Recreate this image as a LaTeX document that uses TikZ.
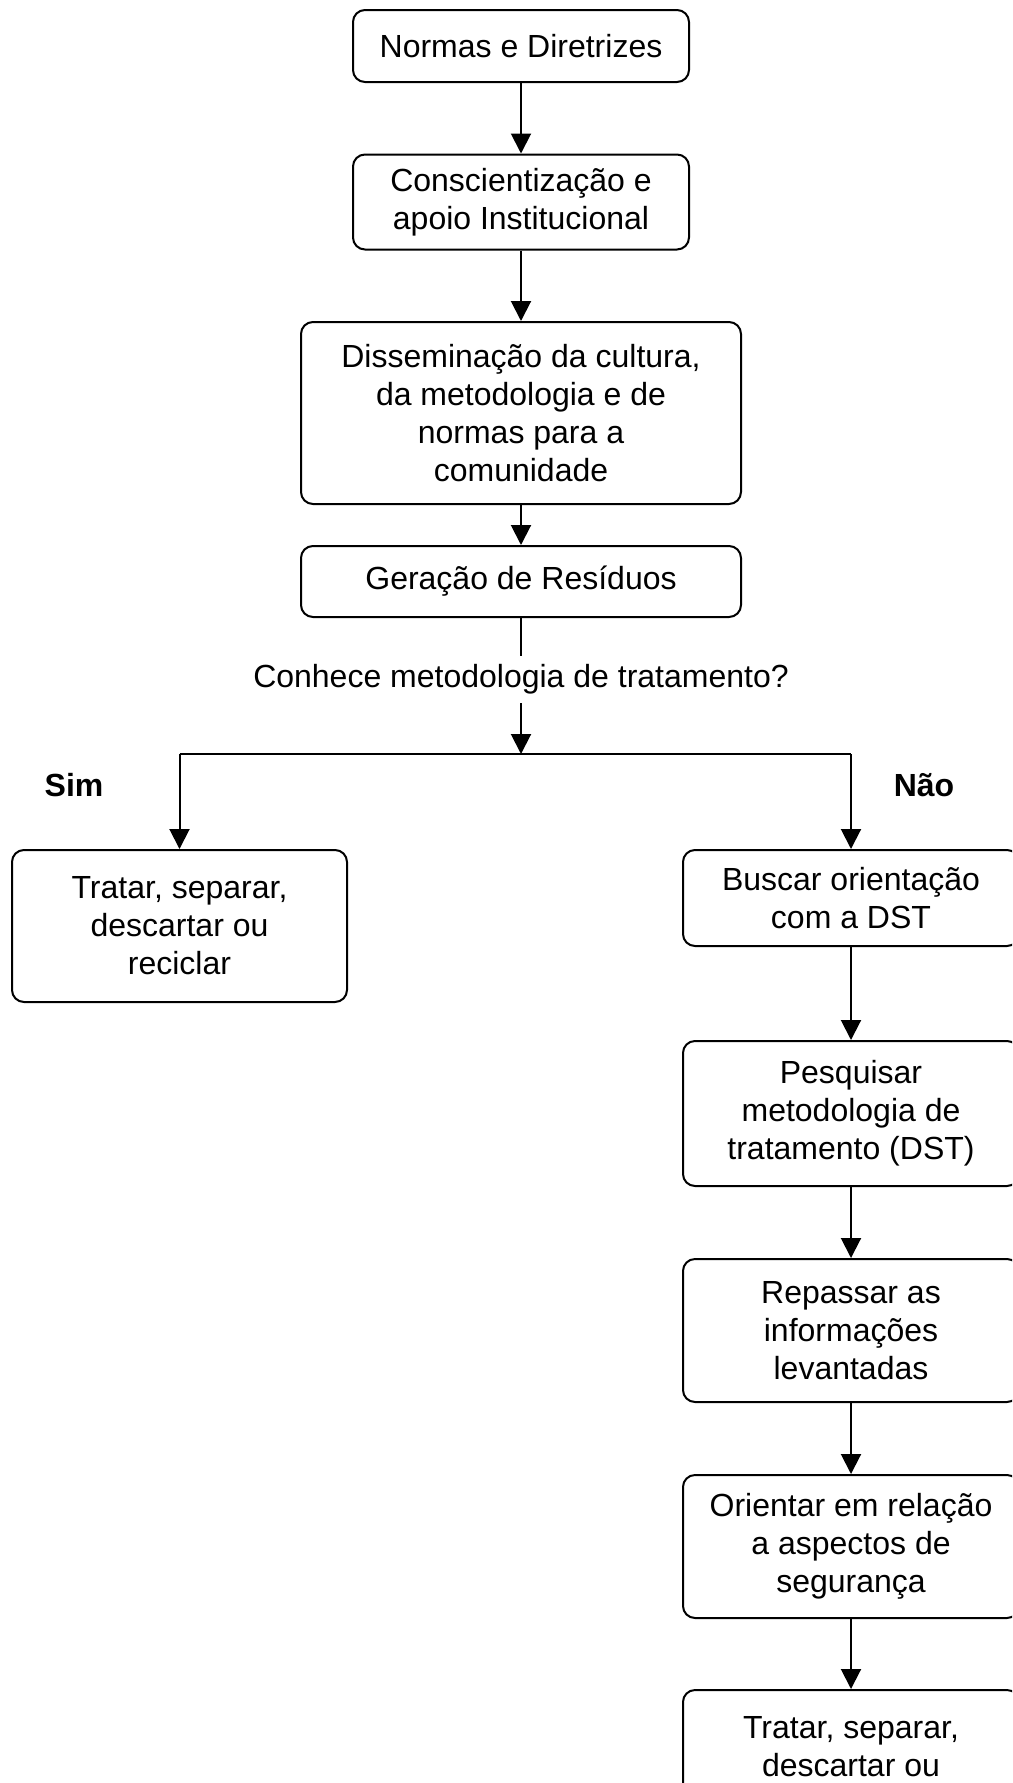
\documentclass[tikz,border=0pt]{standalone}
\usepackage{fontspec}
\setmainfont{Liberation Sans}
\usetikzlibrary{arrows.meta}
\begin{document}
\begin{tikzpicture}[x=0.5pt,y=-0.5pt,
  box/.style={draw,line width=1pt,rounded corners=6pt,align=center,
    font=\fontsize{16}{19}\selectfont,inner sep=2pt},
  lbl/.style={font=\fontsize{16}{18.5}\selectfont\bfseries,inner sep=0pt},
  conn/.style={line width=1pt},
  arr/.style={line width=1pt,-{Triangle[width=10pt,length=10pt]}}]
\useasboundingbox (0,0) rectangle (1012,1783);
\clip (0,0) rectangle (1012,1783);
\node[box,minimum width=168pt,minimum height=36pt] (n1) at (521,46) {Normas e Diretrizes};
\node[box,minimum width=168pt,minimum height=47.5pt] (n2) at (521,202) {Conscientização e\\apoio Institucional};
\node[box,minimum width=220pt,minimum height=91pt] (n3) at (521,413) {Disseminação da cultura,\\da metodologia e de\\normas para a\\comunidade};
\node[box,minimum width=220pt,minimum height=35.5pt] (n4) at (521,581.5) {Geração de Resíduos};
\node[font=\fontsize{16}{18.5}\selectfont,inner sep=0pt,minimum height=23.5pt] (q) at (521,679.5) {Conhece metodologia de tratamento?};
\coordinate (J) at (521,754);
\coordinate (L) at (179.5,754);
\coordinate (R) at (851,754);
\node[lbl] (sim) at (74,785) {Sim};
\node[lbl] (nao) at (924,785) {Não};
\node[box,minimum width=167.5pt,minimum height=76pt] (t1) at (179.5,926) {Tratar, separar,\\descartar ou\\reciclar};
\node[box,minimum width=168pt,minimum height=48pt] (b1) at (851,898) {Buscar orientação\\com a DST};
\node[box,minimum width=168pt,minimum height=72.5pt] (b2) at (851,1113.5) {Pesquisar\\metodologia de\\tratamento (DST)};
\node[box,minimum width=168pt,minimum height=71.5pt] (b3) at (851,1330.5) {Repassar as\\informações\\levantadas};
\node[box,minimum width=168pt,minimum height=71.5pt] (b4) at (851,1546.5) {Orientar em relação\\a aspectos de\\segurança};
\node[box,minimum width=168pt,minimum height=76pt] (b5) at (851,1766) {Tratar, separar,\\descartar ou\\\phantom{reciclar}};
\draw[arr] (n1) -- (n2);
\draw[arr] (n2) -- (n3);
\draw[arr] (n3) -- (n4);
\draw[conn] (n4) -- (q.north);
\draw[arr] (q.south) -- (J);
\draw[conn] (L) -- (R);
\draw[arr] (L) -- (t1.north);
\draw[arr] (R) -- (b1.north);
\draw[arr] (b1) -- (b2);
\draw[arr] (b2) -- (b3);
\draw[arr] (b3) -- (b4);
\draw[arr] (b4) -- (b5);
\end{tikzpicture}
\end{document}
